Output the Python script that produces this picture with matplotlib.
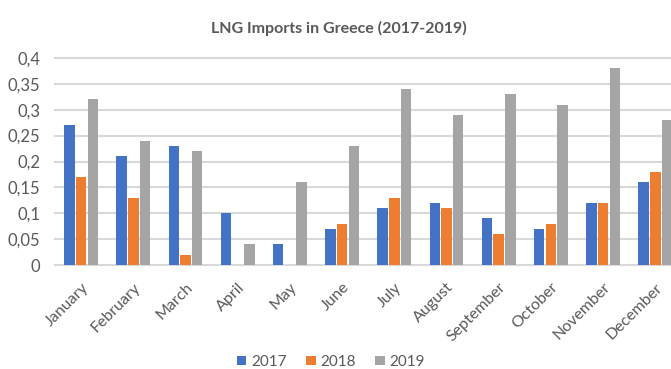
import matplotlib
matplotlib.use("Agg")
import matplotlib.pyplot as plt
import numpy as np
from matplotlib.patches import Patch

months = ["January", "February", "March", "April", "May", "June", "July",
          "August", "September", "October", "November", "December"]
s2017 = [0.27, 0.21, 0.23, 0.10, 0.04, 0.07, 0.11, 0.12, 0.09, 0.07, 0.12, 0.16]
s2018 = [0.17, 0.13, 0.02, 0.0, 0.0, 0.08, 0.13, 0.11, 0.06, 0.08, 0.12, 0.18]
s2019 = [0.32, 0.24, 0.22, 0.04, 0.16, 0.23, 0.34, 0.29, 0.33, 0.31, 0.38, 0.28]
series_names = ["2017", "2018", "2019"]
yticks = [0, 0.05, 0.1, 0.15, 0.2, 0.25, 0.3, 0.35, 0.4]
ytick_labels = ["0", "0,05", "0,1", "0,15", "0,2", "0,25", "0,3", "0,35", "0,4"]

colors = ["#4472C4", "#ED7D31", "#A5A5A5"]
text_color = "#595959"
plt.rcParams['font.family'] = ['Lato', 'DejaVu Sans']

W, H = 671, 369
fig = plt.figure(figsize=(W / 100, H / 100), dpi=100)
left_px, right_px, top_px, bot_px = 55, 55 + 12 * 52.2, 58, 265
ax = fig.add_axes([left_px / W, 1 - bot_px / H, (right_px - left_px) / W, (bot_px - top_px) / H])

x = np.arange(len(months))
width = 0.2
offs = [-0.225, 0.0, 0.225]
for data, c, o in zip([s2017, s2018, s2019], colors, offs):
    ax.bar(x + o, data, width=width, color=c, zorder=3)

ax.set_xlim(-0.5, len(months) - 0.5)
ax.set_ylim(0, 0.4)
ax.set_yticks(yticks)
ax.set_yticklabels(ytick_labels, color=text_color, fontsize=12)
ax.set_xticks(x)
ax.set_xticklabels(months, rotation=45, ha='right', rotation_mode='anchor',
                   color=text_color, fontsize=11.5)
ax.tick_params(axis='both', length=0)
ax.tick_params(axis='y', pad=10.5)
ax.tick_params(axis='x', pad=11)
for s in ax.spines.values():
    s.set_visible(False)
ax.grid(axis='y', color="#D9D9D9", linewidth=1.5, zorder=0, clip_on=False)
ax.set_axisbelow(True)

fig.text(339 / W, 1 - 28 / H, "LNG Imports in Greece (2017-2019)", ha='center', va='center',
         fontsize=11.5, fontweight='bold', color=text_color)

handles = [Patch(facecolor=c) for c in colors]
fig.legend(handles, series_names, loc='center', bbox_to_anchor=(331 / W, 1 - 362 / H),
           ncol=3, frameon=False, fontsize=11, handlelength=0.6, handleheight=0.6,
           handletextpad=0.3, columnspacing=1.3, labelcolor=text_color)

fig.savefig("out.png", dpi=100)
